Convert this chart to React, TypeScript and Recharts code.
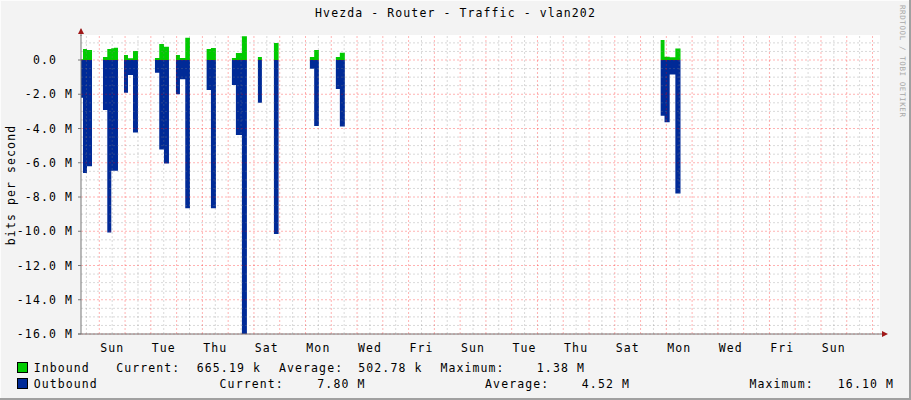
import { ComposedChart, Area, XAxis, YAxis, CartesianGrid, ReferenceLine } from 'recharts';

const FONT = '"DejaVu Sans Mono", "Liberation Mono", monospace';
const TEXT_STYLE = { fontFamily: FONT, fontSize: 11.5, letterSpacing: 1.1, fill: '#000' };

// time in days, 0 = Sunday 00:00 of the first week shown; values in Mbit/s
const times = [
  -0.71, -0.632, -0.477, -0.283,
  0.143, 0.31, 0.465, 0.57, 0.725,
  0.958, 1.113, 1.307, 1.501,
  2.16, 2.326, 2.509, 2.703,
  2.974, 3.129, 3.335, 3.517,
  4.164, 4.331, 4.525,
  5.145, 5.3, 5.533, 5.727,
  6.154, 6.309,
  6.775, 6.956,
  8.17, 8.337, 8.519,
  9.178, 9.333, 9.527,
  21.78, 21.93, 22.13, 22.35, 22.55,
];
const inbound = [
  0.05, 0.64, 0.58, 0,
  0.18, 0.64, 0.68, 0.72, 0,
  0.29, 0.1, 0.53, 0,
  0.12, 0.93, 0.78, 0,
  0.29, 0.12, 1.3, 0,
  0.64, 0.7, 0,
  0.12, 0.41, 1.38, 0,
  0.18, 0,
  0.99, 0,
  0.18, 0.58, 0,
  0.18, 0.43, 0,
  1.17, 0.19, 0.16, 0.665, 0,
];
const outbound = [
  2.2, 6.6, 6.2, 0,
  2.92, 10.08, 6.46, 6.46, 0,
  1.91, 0.88, 4.24, 0,
  0.74, 5.22, 6.04, 0,
  2.0, 1.13, 8.66, 0,
  1.75, 8.66, 0,
  1.46, 4.38, 16.1, 0,
  2.49, 0,
  10.16, 0,
  0.51, 3.85, 0,
  1.69, 3.89, 0,
  3.25, 3.64, 0.84, 7.8, 0,
];

const dayLabels = ['Sun', 'Tue', 'Thu', 'Sat', 'Mon', 'Wed', 'Fri', 'Sun', 'Tue', 'Thu', 'Sat', 'Mon', 'Wed', 'Fri', 'Sun'];
const labelTimes = [0.5, 2.5, 4.5, 6.5, 8.5, 10.5, 12.5, 14.5, 16.5, 18.5, 20.5, 22.5, 24.5, 26.5, 28.5];
const yTicks = [-16, -14, -12, -10, -8, -6, -4, -2, 0];

const inStats = { current: '665.19 k', average: '502.78 k', maximum: '1.38 M' };
const outStats = { current: '7.80 M', average: '4.52 M', maximum: '16.10 M' };

const X_DOMAIN = [-0.71, 30.29];
const Y_DOMAIN = [-16, 1.46];

const data = times.map((t, i) => ({ t, inb: inbound[i], outb: -outbound[i] }));

// grid positions: midnights (major) and noons (minor), 2 M (major) and 0.5 M (minor)
const majorX: number[] = [];
const minorX: number[] = [];
for (let d = 0; d <= 30; d++) majorX.push(d);
for (let d = -0.5; d <= 30; d += 1) minorX.push(d);
const minorY: number[] = [];
for (let v = -15.5; v <= 1.0; v += 0.5) if (v % 2 !== 0) minorY.push(v);

const MAJOR = 'rgba(255,0,0,0.3)';
const MINOR = 'rgba(128,128,128,0.3)';

function YTick({ x, y, payload }: any) {
  const v = payload.value;
  const label = v === 0 ? '0.0' : `${v.toFixed(1)} M`;
  return (
    <text x={v === 0 ? x - 16 : x} y={y} dy="0.36em" textAnchor="end" style={TEXT_STYLE}>
      {label}
    </text>
  );
}

function Overlay() {
  return (
    <svg width={911} height={400} style={{ position: 'absolute', left: 0, top: 0, pointerEvents: 'none' }}>
      {/* frame */}
      <line x1={0} y1={0.5} x2={911} y2={0.5} stroke="#fcfcfc" />
      <line x1={0.5} y1={0} x2={0.5} y2={400} stroke="#fcfcfc" />
      <line x1={0} y1={399} x2={911} y2={399} stroke="#a0a0a0" strokeWidth={2} />
      <line x1={910} y1={0} x2={910} y2={400} stroke="#a0a0a0" strokeWidth={2} />
      {/* axis extensions + arrows */}
      <line x1={81} y1={29} x2={81} y2={36} stroke="#777" />
      <line x1={78} y1={334} x2={81} y2={334} stroke="#777" />
      <line x1={880} y1={334} x2={884} y2={334} stroke="#777" />
      <polygon points="78,34 84,34 81,28" fill="#a01818" />
      <polygon points="882,331 882,337 888,334" fill="#a01818" />
      <text x={455.5} y={17} textAnchor="middle" style={TEXT_STYLE}>
        Hvezda - Router - Traffic - vlan202
      </text>
      <text x={14.5} y={185} transform="rotate(-90, 14.5, 185)" textAnchor="middle" style={TEXT_STYLE}>
        bits per second
      </text>
      <text
        x={900}
        y={5}
        transform="rotate(90, 900, 5)"
        style={{ fontFamily: FONT, fontSize: 7.5, letterSpacing: 0.6, fill: '#a8a8a8' }}
      >
        RRDTOOL / TOBI OETIKER
      </text>
      {/* legend */}
      <rect x={17.5} y={362.5} width={10} height={10} fill="#00CC00" stroke="#000" />
      <text x={33.7} y={372} style={TEXT_STYLE}>Inbound</text>
      <text x={116.2} y={372} style={TEXT_STYLE}>Current:</text>
      <text x={261} y={372} textAnchor="end" style={TEXT_STYLE}>{inStats.current}</text>
      <text x={279} y={372} style={TEXT_STYLE}>Average:</text>
      <text x={422.5} y={372} textAnchor="end" style={TEXT_STYLE}>{inStats.average}</text>
      <text x={440.4} y={372} style={TEXT_STYLE}>Maximum:</text>
      <text x={585} y={372} textAnchor="end" style={TEXT_STYLE}>{inStats.maximum}</text>
      <rect x={17.5} y={378.5} width={10} height={10} fill="#002A97" stroke="#000" />
      <text x={33.7} y={388} style={TEXT_STYLE}>Outbound</text>
      <text x={219.6} y={388} style={TEXT_STYLE}>Current:</text>
      <text x={365.5} y={388} textAnchor="end" style={TEXT_STYLE}>{outStats.current}</text>
      <text x={485.1} y={388} style={TEXT_STYLE}>Average:</text>
      <text x={630} y={388} textAnchor="end" style={TEXT_STYLE}>{outStats.average}</text>
      <text x={749.5} y={388} style={TEXT_STYLE}>Maximum:</text>
      <text x={894} y={388} textAnchor="end" style={TEXT_STYLE}>{outStats.maximum}</text>
    </svg>
  );
}

export default function App() {
  return (
    <div style={{ position: 'absolute', left: 0, top: 0, width: 911, height: 400, background: '#f3f3f3' }}>
      <ComposedChart width={911} height={400} data={data} margin={{ top: 35, right: 31, bottom: 46, left: 0 }}>
        <CartesianGrid fill="#ffffff" horizontal={false} vertical={false} stroke="none" />
        <XAxis
          dataKey="t"
          type="number"
          domain={X_DOMAIN}
          allowDataOverflow
          ticks={labelTimes}
          tickFormatter={(_v: number, i: number) => dayLabels[i]}
          tick={TEXT_STYLE}
          tickLine={false}
          tickSize={0}
          tickMargin={10}
          height={20}
          axisLine={{ stroke: '#777' }}
          interval={0}
        />
        <YAxis
          type="number"
          domain={Y_DOMAIN}
          allowDataOverflow
          ticks={yTicks}
          tick={<YTick />}
          tickLine={{ stroke: '#777' }}
          tickSize={3}
          tickMargin={5}
          width={81}
          axisLine={{ stroke: '#777' }}
          interval={0}
        />
        <Area
          type="stepAfter"
          dataKey="inb"
          stroke="none"
          fill="#00CC00"
          fillOpacity={1}
          baseValue={0}
          isAnimationActive={false}
          dot={false}
          activeDot={false}
        />
        <Area
          type="stepAfter"
          dataKey="outb"
          stroke="none"
          fill="#002A97"
          fillOpacity={1}
          baseValue={0}
          isAnimationActive={false}
          dot={false}
          activeDot={false}
        />
        {minorX.map((d) => (
          <ReferenceLine key={`mx${d}`} x={d} stroke={MINOR} strokeDasharray="2 2" />
        ))}
        {minorY.map((v) => (
          <ReferenceLine key={`my${v}`} y={v} stroke={MINOR} strokeDasharray="2 2" />
        ))}
        {majorX.map((d) => (
          <ReferenceLine key={`Mx${d}`} x={d} stroke={MAJOR} strokeDasharray="2 2" />
        ))}
        {yTicks.map((v) => (
          <ReferenceLine key={`My${v}`} y={v} stroke={MAJOR} strokeDasharray="2 2" />
        ))}
      </ComposedChart>
      <Overlay />
    </div>
  );
}
